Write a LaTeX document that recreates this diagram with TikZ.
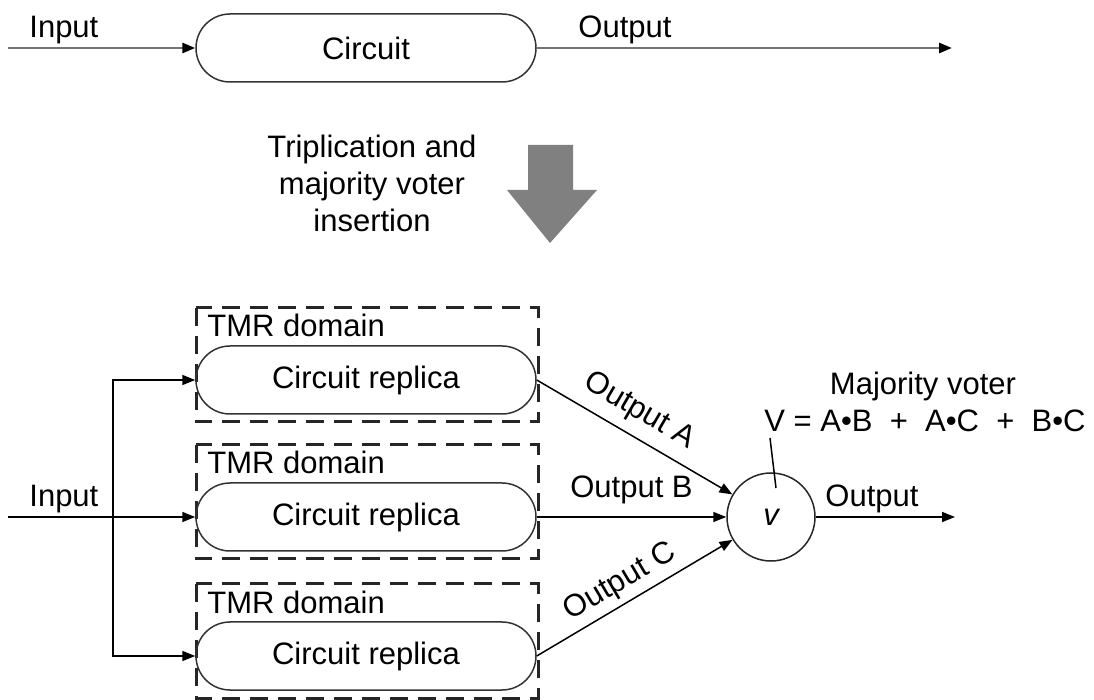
\documentclass[tikz,border=0pt]{standalone}
\usepackage{fontspec}
\setmainfont{Liberation Sans}
\usetikzlibrary{arrows.meta,calc}
\begin{document}
\begin{tikzpicture}[x=0.5pt,y=-0.5pt,
  every node/.style={font=\fontsize{15.5}{18.5}\selectfont, inner sep=0pt},
  block/.style={draw=black!80, line width=0.75pt, rounded corners=17pt,
    minimum width=170pt, minimum height=34pt},
  tmrbox/.style={draw=black!85, line width=1.5pt, dash pattern=on 9pt off 5pt},
  wire/.style={line width=0.75pt, -{Triangle[length=6.5pt,width=5pt]}},
  mainwire/.style={draw=black!55, line width=1.4pt,
    -{Triangle[length=6.5pt,width=5pt,color=black]}},
  voter/.style={draw=black!85, line width=0.75pt, circle, minimum size=44pt},
]
\useasboundingbox (0,0) rectangle (1094,700);

% original circuit
\node[block] (circ) at (366,48) {Circuit};
\coordinate (inT) at (8,48);
\coordinate (outT) at (952,48);
\draw[mainwire] (inT) -- (circ.west);
\draw[mainwire] (circ.east) -- (outT);
\node[anchor=base west] (inTlbl) at (29,38) {Input};
\node[anchor=base west] (outTlbl) at (578,38) {Output};

% transformation step
\fill[black!50] (528,145) -- (573,145) -- (573,190) -- (597,190)
  -- (550,243) -- (507,190) -- (528,190) -- cycle;
\node[align=center] (trip) at (372,183) {Triplication and\\majority voter\\insertion};

% three TMR domains
\foreach \i/\y in {1/380, 2/517, 3/656} {
  \draw[tmrbox] (196,{\y-72}) rectangle (538,{\y+42});
  \node[anchor=base west] (tmr\i) at (207,{\y-43}) {TMR domain};
  \node[block] (r\i) at (366,\y) {Circuit replica};
}

% input fan-out
\coordinate (inB) at (8,517);
\coordinate (fork) at (113,517);
\draw[wire] (inB) -- (r2.west);
\draw[wire] (fork) |- (r1.west);
\draw[wire] (fork) |- (r3.west);
\node[anchor=base west] (inBlbl) at (29,507) {Input};

% majority voter
\node[voter] (v) at (771,517) {\itshape v};
\draw[wire] (r1.east) -- node[pos=0.46, sloped, above=5pt] (lblA) {Output A} (v);
\draw[wire] (r2.east) -- node[above=6pt] (lblB) {Output B} (v);
\draw[wire] (r3.east) -- node[pos=0.48, sloped, above=3pt] (lblC) {Output C} (v);
\coordinate (outB) at (955,517);
\draw[wire] (v) -- (outB);
\node[anchor=base west] (outBlbl) at (825,507) {Output};

\node[anchor=base] (maj) at (923,395) {Majority voter};
\node[anchor=base] (formula) at (925,432) {V = A•B\ \ +\ \ A•C\ \ +\ \ B•C};
\coordinate (ptrTop) at (770,438);
\coordinate (ptrBot) at (776,488);
\draw[line width=0.75pt] (ptrTop) -- (ptrBot);
\end{tikzpicture}
\end{document}
